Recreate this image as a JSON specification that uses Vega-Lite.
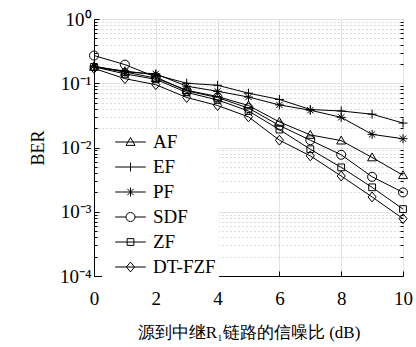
{
  "$schema": "https://vega.github.io/schema/vega-lite/v6.json",
  "width": 309,
  "height": 257,
  "autosize": "none",
  "padding": {"left": 94, "top": 19, "right": 13, "bottom": 71},
  "background": "white",
  "config": {
    "view": {"stroke": "black", "strokeWidth": 1},
    "font": "Liberation Serif",
    "axis": {"domainColor": "black", "tickColor": "black", "labelColor": "black", "titleColor": "black", "labelFont": "Liberation Serif", "titleFont": "Liberation Serif", "titleFontWeight": "normal"},
    "legend": {"labelFont": "Liberation Serif"}
  },
  "data": {"values": [
    {"x": 0, "ber": 0.18, "s": "AF"}, {"x": 1, "ber": 0.15, "s": "AF"}, {"x": 2, "ber": 0.12, "s": "AF"}, {"x": 3, "ber": 0.078, "s": "AF"}, {"x": 4, "ber": 0.062, "s": "AF"}, {"x": 5, "ber": 0.045, "s": "AF"}, {"x": 6, "ber": 0.025, "s": "AF"}, {"x": 7, "ber": 0.0157, "s": "AF"}, {"x": 8, "ber": 0.0128, "s": "AF"}, {"x": 9, "ber": 0.007, "s": "AF"}, {"x": 10, "ber": 0.0037, "s": "AF"},
    {"x": 0, "ber": 0.18, "s": "EF"}, {"x": 1, "ber": 0.155, "s": "EF"}, {"x": 2, "ber": 0.135, "s": "EF"}, {"x": 3, "ber": 0.1, "s": "EF"}, {"x": 4, "ber": 0.093, "s": "EF"}, {"x": 5, "ber": 0.07, "s": "EF"}, {"x": 6, "ber": 0.056, "s": "EF"}, {"x": 7, "ber": 0.039, "s": "EF"}, {"x": 8, "ber": 0.037, "s": "EF"}, {"x": 9, "ber": 0.033, "s": "EF"}, {"x": 10, "ber": 0.024, "s": "EF"},
    {"x": 0, "ber": 0.185, "s": "PF"}, {"x": 1, "ber": 0.15, "s": "PF"}, {"x": 2, "ber": 0.14, "s": "PF"}, {"x": 3, "ber": 0.09, "s": "PF"}, {"x": 4, "ber": 0.075, "s": "PF"}, {"x": 5, "ber": 0.061, "s": "PF"}, {"x": 6, "ber": 0.046, "s": "PF"}, {"x": 7, "ber": 0.038, "s": "PF"}, {"x": 8, "ber": 0.0295, "s": "PF"}, {"x": 9, "ber": 0.016, "s": "PF"}, {"x": 10, "ber": 0.0137, "s": "PF"},
    {"x": 0, "ber": 0.27, "s": "SDF"}, {"x": 1, "ber": 0.195, "s": "SDF"}, {"x": 2, "ber": 0.125, "s": "SDF"}, {"x": 3, "ber": 0.076, "s": "SDF"}, {"x": 4, "ber": 0.06, "s": "SDF"}, {"x": 5, "ber": 0.041, "s": "SDF"}, {"x": 6, "ber": 0.022, "s": "SDF"}, {"x": 7, "ber": 0.013, "s": "SDF"}, {"x": 8, "ber": 0.0077, "s": "SDF"}, {"x": 9, "ber": 0.0035, "s": "SDF"}, {"x": 10, "ber": 0.002, "s": "SDF"},
    {"x": 0, "ber": 0.18, "s": "ZF"}, {"x": 1, "ber": 0.14, "s": "ZF"}, {"x": 2, "ber": 0.115, "s": "ZF"}, {"x": 3, "ber": 0.072, "s": "ZF"}, {"x": 4, "ber": 0.055, "s": "ZF"}, {"x": 5, "ber": 0.037, "s": "ZF"}, {"x": 6, "ber": 0.019, "s": "ZF"}, {"x": 7, "ber": 0.0094, "s": "ZF"}, {"x": 8, "ber": 0.0049, "s": "ZF"}, {"x": 9, "ber": 0.0024, "s": "ZF"}, {"x": 10, "ber": 0.0011, "s": "ZF"},
    {"x": 0, "ber": 0.17, "s": "DT-FZF"}, {"x": 1, "ber": 0.118, "s": "DT-FZF"}, {"x": 2, "ber": 0.095, "s": "DT-FZF"}, {"x": 3, "ber": 0.06, "s": "DT-FZF"}, {"x": 4, "ber": 0.045, "s": "DT-FZF"}, {"x": 5, "ber": 0.03, "s": "DT-FZF"}, {"x": 6, "ber": 0.013, "s": "DT-FZF"}, {"x": 7, "ber": 0.0074, "s": "DT-FZF"}, {"x": 8, "ber": 0.0036, "s": "DT-FZF"}, {"x": 9, "ber": 0.0017, "s": "DT-FZF"}, {"x": 10, "ber": 0.00078, "s": "DT-FZF"}
  ]},
  "layer": [
    {
      "mark": {"type": "line", "color": "black", "strokeWidth": 1},
      "encoding": {
        "x": {"field": "x", "type": "quantitative", "scale": {"domain": [0, 10], "nice": false},
          "axis": {"values": [0, 2, 4, 6, 8, 10], "title": "源到中继R₁链路的信噪比 (dB)", "titleFont": "Liberation Serif", "titleFontSize": 17, "titlePadding": 16, "labelFontSize": 19, "labelPadding": 18, "tickSize": -5, "grid": true, "gridColor": "#e2e2e2", "labelFlush": false}},
        "y": {"field": "ber", "type": "quantitative", "scale": {"type": "log", "domain": [0.0001, 1], "nice": false},
          "axis": {"orient": "left", "values": [0.0001, 0.001, 0.01, 0.1, 1], "title": "BER", "titleFontSize": 18, "titlePadding": 12, "labelFontSize": 19, "labelPadding": 8, "tickSize": -5, "grid": true, "gridColor": "#e2e2e2", "labelFlush": false,
            "labelExpr": "['10⁰','10⁻¹','10⁻²','10⁻³','10⁻⁴'][round(-log(datum.value)/LN10)]"}},
        "detail": {"field": "s"}
      }
    },
    {
      "mark": {"type": "point", "color": "black", "filled": false, "strokeWidth": 1, "size": 81, "opacity": 1},
      "encoding": {
        "x": {"field": "x", "type": "quantitative"},
        "y": {"field": "ber", "type": "quantitative",
          "axis": {"orient": "right", "values": [0.0002,0.0003,0.0004,0.0005,0.0006,0.0007,0.0008,0.0009,0.002,0.003,0.004,0.005,0.006,0.007,0.008,0.009,0.02,0.03,0.04,0.05,0.06,0.07,0.08,0.09,0.2,0.3,0.4,0.5,0.6,0.7,0.8,0.9], "labels": false, "title": null, "tickSize": -3, "domain": false, "grid": true, "gridColor": "#b8b8b8", "gridDash": [1, 3]}},
        "shape": {"field": "s", "type": "nominal", "legend": null,
          "scale": {"domain": ["AF", "EF", "PF", "SDF", "ZF", "DT-FZF"],
            "range": ["M0,-1L1,0.75L-1,0.75Z", "M-1,0H1M0,-1V1", "M-1,0H1M0,-1V1M-0.7,-0.7L0.7,0.7M-0.7,0.7L0.7,-0.7", "circle", "M-0.75,-0.75H0.75V0.75H-0.75Z", "M0,-1.1L0.9,0L0,1.1L-0.9,0Z"]}}
      }
    },
    {
      "mark": {"type": "point", "color": "black", "filled": false, "strokeWidth": 1, "size": 81, "opacity": 0},
      "encoding": {
        "x": {"field": "x", "type": "quantitative"},
        "y": {"field": "ber", "type": "quantitative",
          "axis": {"orient": "left", "values": [0.0002,0.0003,0.0004,0.0005,0.0006,0.0007,0.0008,0.0009,0.002,0.003,0.004,0.005,0.006,0.007,0.008,0.009,0.02,0.03,0.04,0.05,0.06,0.07,0.08,0.09,0.2,0.3,0.4,0.5,0.6,0.7,0.8,0.9], "labels": false, "title": null, "tickSize": -3, "domain": false, "grid": false}},
        "shape": {"field": "s", "type": "nominal",
          "scale": {"domain": ["AF", "EF", "PF", "SDF", "ZF", "DT-FZF"],
            "range": ["M-3.4,0H3.4M0,-1L1,0.75L-1,0.75Z", "M-3.4,0H3.4M0,-1V1", "M-3.4,0H3.4M0,-1V1M-0.7,-0.7L0.7,0.7M-0.7,0.7L0.7,-0.7", "M-3.4,0H-1A1,1,0,1,1,1,0A1,1,0,1,1,-1,0M1,0H3.4", "M-3.4,0H3.4M-0.75,-0.75H0.75V0.75H-0.75Z", "M-3.4,0H3.4M0,-1.1L0.9,0L0,1.1L-0.9,0Z"]},
          "legend": {"title": null, "orient": "none", "legendX": 8, "legendY": 110.5, "fillColor": "white", "padding": 3, "symbolOffset": 16, "symbolSize": 81, "symbolStrokeColor": "black", "symbolStrokeWidth": 1, "symbolOpacity": 1, "symbolFillColor": "transparent", "labelFont": "Liberation Serif", "labelFontSize": 19, "labelColor": "black", "labelOffset": 13, "rowPadding": 5, "labelLimit": 200}}
      }
    }
  ],
  "resolve": {"scale": {"shape": "independent"}, "axis": {"y": "independent"}}
}
